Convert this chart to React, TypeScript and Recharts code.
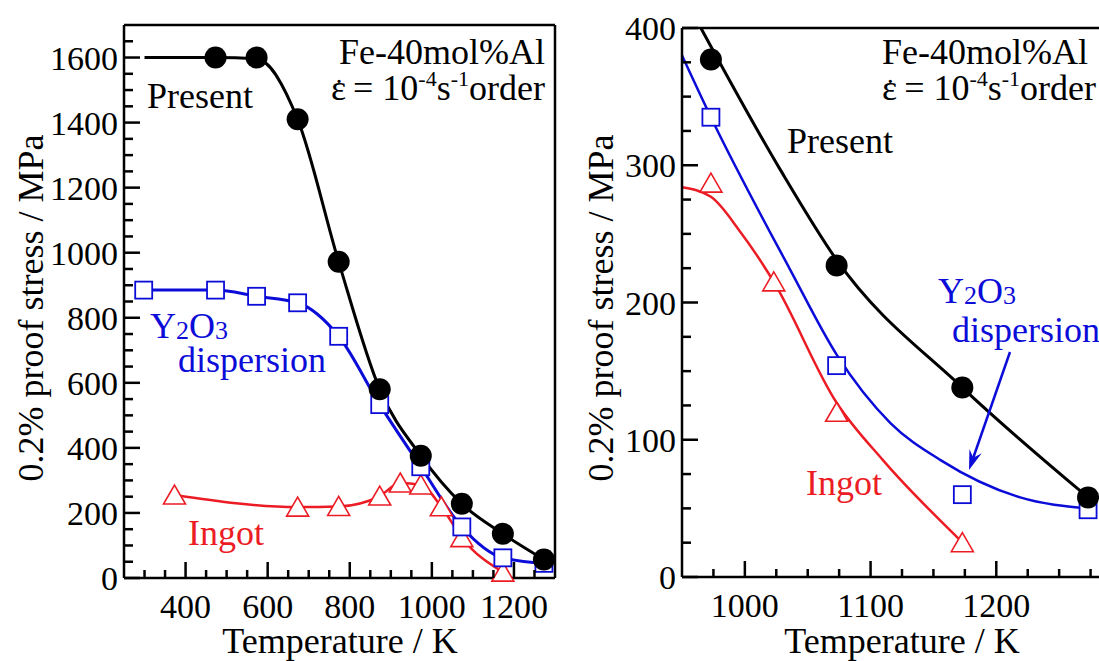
import React from "react";
import { ComposedChart, Line, Scatter, XAxis, YAxis, ReferenceLine } from "recharts";

const FONT = "Liberation Serif, Tinos, Times New Roman, DejaVu Serif, serif";
const BLUE = "#0c0cd8";
const RED = "#ec1c24";

// ---- left panel: room temperature up to 1273 K ----
const presentTempL = [473, 573, 673, 773, 873, 973, 1073, 1173, 1273];
const presentStressL = [1600, 1600, 1410, 972, 580, 376, 228, 136, 57];
const y2o3TempL = [298, 473, 573, 673, 773, 873, 973, 1073, 1173, 1273];
const y2o3StressL = [885, 885, 866, 846, 743, 533, 342, 157, 62, 45];
const ingotTempL = [373, 673, 773, 873, 923, 973, 1023, 1073, 1173];
const ingotStressL = [255, 218, 220, 252, 292, 286, 219, 124, 18];
// present curve starts flat from ~300 K
const presentCurveTempL = [300, 473, 573, 673, 773, 873, 973, 1073, 1173, 1273];
const presentCurveStressL = [1600, 1600, 1596, 1410, 972, 580, 376, 228, 136, 57];

// ---- right panel: 950-1300 K detail ----
const presentTempR = [973, 1073, 1173, 1273];
const presentStressR = [377, 227, 138, 58];
const y2o3TempR = [973, 1073, 1173, 1273];
const y2o3StressR = [335, 154, 60, 49];
const ingotTempR = [973, 1023, 1073, 1173];
const ingotStressR = [287, 215, 120, 25];
// fitted curves
const presentFitTemp = [965, 1028, 1073, 1173, 1273];
const presentFitStress = [400, 297, 231, 138, 58];
const y2o3FitTemp = [950, 973, 1036, 1073, 1116, 1156, 1219, 1273];
const y2o3FitStress = [380, 335, 224, 162, 112, 85, 58, 50];
const ingotFitTemp = [950, 973, 996, 1023, 1073, 1110, 1170];
const ingotFitStress = [284, 277, 252, 215, 127, 85, 28];

// tick labels
const xLabelsL = [400, 600, 800, 1000, 1200];
const yLabelsL = [0, 200, 400, 600, 800, 1000, 1200, 1400, 1600];
const xLabelsR = [1000, 1100, 1200];
const yLabelsR = [0, 100, 200, 300, 400];

const steps = (from: number, to: number, step: number) => {
  const out: number[] = [];
  for (let v = from; v <= to; v += step) out.push(v);
  return out;
};
const pair = (xs: number[], ys: number[]) => xs.map((x, i) => ({ x, y: ys[i] }));

function BottomTick(props: any) {
  const { x, y, payload, labels } = props;
  const v = payload.value;
  const big = labels.includes(v);
  return (
    <g>
      <line x1={x} x2={x} y1={y} y2={y - (big ? 16 : 8)} stroke="#000" strokeWidth={2.5} />
      {big && (
        <text x={x} y={y + 40} textAnchor="middle" fontFamily={FONT} fontSize={34} fill="#000">
          {v}
        </text>
      )}
    </g>
  );
}

function LeftTick(props: any) {
  const { x, y, payload, labels } = props;
  const v = payload.value;
  const big = labels.includes(v);
  return (
    <g>
      <line x1={x} x2={x + (big ? 16 : 9)} y1={y} y2={y} stroke="#000" strokeWidth={2.5} />
      {big && (
        <text x={x - 6} y={y + 12} textAnchor="end" fontFamily={FONT} fontSize={34} fill="#000">
          {v}
        </text>
      )}
    </g>
  );
}

const Dot = (p: any) => <circle cx={p.cx} cy={p.cy} r={11} fill="#000" />;
const Square = (p: any) => (
  <rect x={p.cx - 8.5} y={p.cy - 8.5} width={17} height={17} fill="#fff" stroke={BLUE} strokeWidth={1.8} />
);
const Tri = (p: any) => (
  <polygon
    points={`${p.cx},${p.cy - 10} ${p.cx + 11},${p.cy + 9} ${p.cx - 11},${p.cy + 9}`}
    fill="#fff"
    stroke={RED}
    strokeWidth={1.6}
  />
);

const axisLine = { stroke: "#000", strokeWidth: 2.5 };

function LeftPanel() {
  return (
    <ComposedChart width={600} height={661} margin={{ top: 25, right: 45, bottom: 0, left: 0 }}>
      <XAxis
        type="number"
        dataKey="x"
        domain={[250, 1300]}
        ticks={steps(300, 1250, 50)}
        interval={0}
        height={83}
        tickSize={0}
        tickMargin={0}
        tickLine={false}
        axisLine={axisLine}
        tick={(p: any) => <BottomTick {...p} labels={xLabelsL} />}
      />
      <YAxis
        type="number"
        dataKey="y"
        domain={[0, 1700]}
        ticks={steps(0, 1650, 50)}
        interval={0}
        width={124}
        tickSize={0}
        tickMargin={0}
        tickLine={false}
        axisLine={axisLine}
        tick={(p: any) => <LeftTick {...p} labels={yLabelsL} />}
      />
      <ReferenceLine y={1700} stroke="#000" strokeWidth={2.5} />
      <ReferenceLine x={1300} stroke="#000" strokeWidth={2.5} />
      <Line data={pair(ingotTempL, ingotStressL)} dataKey="y" type="monotone" dot={false} stroke={RED} strokeWidth={2.5} isAnimationActive={false} />
      <Line data={pair(y2o3TempL, y2o3StressL)} dataKey="y" type="monotone" dot={false} stroke={BLUE} strokeWidth={3} isAnimationActive={false} />
      <Line data={pair(presentCurveTempL, presentCurveStressL)} dataKey="y" type="monotone" dot={false} stroke="#000" strokeWidth={3} isAnimationActive={false} />
      <Scatter data={pair(ingotTempL, ingotStressL)} shape={Tri} isAnimationActive={false} />
      <Scatter data={pair(y2o3TempL, y2o3StressL)} shape={Square} isAnimationActive={false} />
      <Scatter data={pair(presentTempL, presentStressL)} shape={Dot} isAnimationActive={false} />
    </ComposedChart>
  );
}

function RightPanel() {
  return (
    <ComposedChart width={600} height={661} margin={{ top: 28, right: 38, bottom: 0, left: 0 }}>
      <XAxis
        type="number"
        dataKey="x"
        domain={[950, 1300]}
        ticks={steps(975, 1275, 25)}
        interval={0}
        height={84}
        tickSize={0}
        tickMargin={0}
        tickLine={false}
        axisLine={axisLine}
        tick={(p: any) => <BottomTick {...p} labels={xLabelsR} />}
      />
      <YAxis
        type="number"
        dataKey="y"
        domain={[0, 400]}
        ticks={steps(0, 400, 25)}
        interval={0}
        width={122}
        tickSize={0}
        tickMargin={0}
        tickLine={false}
        axisLine={axisLine}
        tick={(p: any) => <LeftTick {...p} labels={yLabelsR} />}
      />
      <ReferenceLine y={400} stroke="#000" strokeWidth={2.5} />
      <Line data={pair(ingotFitTemp, ingotFitStress)} dataKey="y" type="monotone" dot={false} stroke={RED} strokeWidth={2.5} isAnimationActive={false} />
      <Line data={pair(y2o3FitTemp, y2o3FitStress)} dataKey="y" type="monotone" dot={false} stroke={BLUE} strokeWidth={2.5} isAnimationActive={false} />
      <Line data={pair(presentFitTemp, presentFitStress)} dataKey="y" type="monotone" dot={false} stroke="#000" strokeWidth={3} isAnimationActive={false} />
      <Scatter data={pair(ingotTempR, ingotStressR)} shape={Tri} isAnimationActive={false} />
      <Scatter data={pair(y2o3TempR, y2o3StressR)} shape={Square} isAnimationActive={false} />
      <Scatter data={pair(presentTempR, presentStressR)} shape={Dot} isAnimationActive={false} />
    </ComposedChart>
  );
}

function Condition({ x, y, anchor }: { x: number; y: number; anchor: "start" | "end" }) {
  return (
    <g fontFamily={FONT} fill="#000">
      <text x={x} y={y - 36} textAnchor={anchor} fontSize={36}>
        Fe-40mol%Al
      </text>
      <text x={x} y={y} textAnchor={anchor} fontSize={36}>
        {"\u03b5"}
        <tspan dx={-12} fontSize={30}>{"\u02d9"}</tspan>
        <tspan>{" = 10"}</tspan>
        <tspan fontSize={22} dy={-14}>-4</tspan>
        <tspan dy={14}>s</tspan>
        <tspan fontSize={22} dy={-14}>-1</tspan>
        <tspan dy={14}>order</tspan>
      </text>
    </g>
  );
}

function Y2O3({ x, y }: { x: number; y: number }) {
  return (
    <text x={x} y={y} fontFamily={FONT} fontSize={36} fill={BLUE}>
      Y<tspan fontSize={26} dy={1}>2</tspan>
      <tspan dy={-1}>O</tspan>
      <tspan fontSize={26} dy={1}>3</tspan>
    </text>
  );
}

function Overlay() {
  // arrow in the right panel pointing at the Y2O3 curve
  const ax = 1010, ay = 352, bx = 969, by = 470;
  const len = Math.hypot(bx - ax, by - ay);
  const ux = (bx - ax) / len, uy = (by - ay) / len;
  const px = -uy, py = ux;
  const head = 20, half = 6.5, notch = 13;
  const barbA = `${bx - head * ux + half * px},${by - head * uy + half * py}`;
  const barbB = `${bx - head * ux - half * px},${by - head * uy - half * py}`;
  const nX = bx - notch * ux, nY = by - notch * uy;
  return (
    <svg width={1099} height={661} style={{ position: "absolute", left: 0, top: 0, pointerEvents: "none" }}>
      <g fontFamily={FONT} fontSize={36} fill="#000">
        <text transform="rotate(-90 43 308)" x={43} y={308} textAnchor="middle">
          0.2% proof stress / MPa
        </text>
        <text transform="rotate(-90 613 308)" x={613} y={308} textAnchor="middle">
          0.2% proof stress / MPa
        </text>
        <text x={340} y={653} textAnchor="middle">Temperature / K</text>
        <text x={902} y={653} textAnchor="middle">Temperature / K</text>
        <text x={147} y={108}>Present</text>
        <text x={787} y={153}>Present</text>
      </g>
      <Condition x={545} y={100} anchor="end" />
      <Condition x={882} y={100} anchor="start" />
      <Y2O3 x={150} y={338} />
      <text x={178} y={372} fontFamily={FONT} fontSize={36} fill={BLUE}>dispersion</text>
      <Y2O3 x={938} y={303} />
      <text x={952} y={342} fontFamily={FONT} fontSize={36} fill={BLUE}>dispersion</text>
      <text x={188} y={545} fontFamily={FONT} fontSize={36} fill={RED}>Ingot</text>
      <text x={806} y={495} fontFamily={FONT} fontSize={36} fill={RED}>Ingot</text>
      <line x1={ax} y1={ay} x2={nX} y2={nY} stroke={BLUE} strokeWidth={2.5} />
      <polygon points={`${bx},${by} ${barbA} ${nX},${nY} ${barbB}`} fill={BLUE} />
    </svg>
  );
}

export default function App() {
  return (
    <div
      style={{
        position: "absolute",
        left: 0,
        top: 0,
        width: 1099,
        height: 661,
        overflow: "hidden",
        background: "#fff",
      }}
    >
      <div style={{ position: "absolute", left: 0, top: 0 }}>
        <LeftPanel />
      </div>
      <div style={{ position: "absolute", left: 560, top: 0 }}>
        <RightPanel />
      </div>
      <Overlay />
    </div>
  );
}
